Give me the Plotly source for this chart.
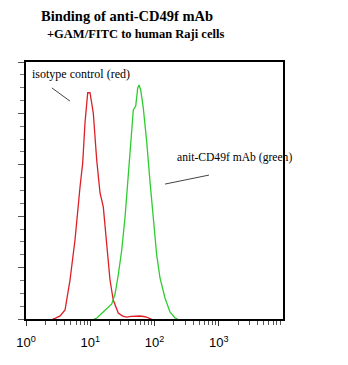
import plotly.graph_objects as go

# Isotype control (red) histogram: fluorescence intensity vs counts
red_x = [2.6, 2.83, 3.4, 4.05, 4.84, 5.79, 6.93, 7.63, 8.28, 9.13, 9.91, 11.15, 12.6, 14.2,
         15.96, 18.03, 20.3, 22.8, 27.3, 32, 36.9, 43, 49.7, 60, 71.1, 79.2, 90]
red_y = [0, 0.7, 3, 8.75, 37.9, 76.8, 128.4, 151.8, 190.7, 220.1, 220.1, 200.4, 154.7, 122.6,
         109, 73.9, 37.9, 18.5, 5.8, 2.8, 1.9, 2.5, 2.9, 2.9, 2.2, 1, 0]

# anti-CD49f mAb (green) histogram
green_x = [11.5, 12.6, 14.2, 18.03, 21.6, 24.3, 27.3, 30.9, 34.7, 39.1, 44.2, 46.8, 51, 54.8,
           57.4, 61, 66.9, 75.6, 85.1, 95.8, 108.2, 121.8, 145.7, 174.2, 208.4, 230]
green_y = [0, 0.7, 3.9, 9.7, 14.6, 24.3, 42.8, 67.1, 98.2, 140.1, 179, 203.3, 207.2, 224.7,
           227.6, 222.8, 205.3, 172.5, 133.6, 94.6, 62.3, 39.9, 20.4, 6.8, 1, 0]

x_tick_vals = [1, 10, 100, 1000]
x_tick_text = ["10<sup>0</sup>", "10<sup>1</sup>", "10<sup>2</sup>", "10<sup>3</sup>"]
x_minor_vals = [m * d for d in [1, 10, 100, 1000] for m in range(2, 10)]

title_line1 = "Binding of anti-CD49f mAb"
title_line2 = "+GAM/FITC to human Raji cells"
label_red = "isotype control (red)"
label_green = "anit-CD49f mAb (green)"

fig = go.Figure()
fig.add_trace(go.Scatter(x=red_x, y=red_y, mode="lines",
                         line=dict(color="#dd1f26", width=1.3), showlegend=False))
fig.add_trace(go.Scatter(x=green_x, y=green_y, mode="lines",
                         line=dict(color="#2fcc2f", width=1.3), showlegend=False))

serif = "Liberation Serif, Times New Roman, serif"

fig.update_layout(
    width=348, height=365,
    margin=dict(l=26, r=65, t=62, b=46),
    paper_bgcolor="white", plot_bgcolor="white",
    xaxis=dict(type="log", range=[0, 4], showgrid=False, zeroline=False,
               showline=True, mirror=True, linecolor="black", linewidth=1.5,
               tickvals=x_tick_vals, ticktext=x_tick_text,
               ticks="outside", ticklen=5, tickcolor="#333", tickwidth=1,
               ticklabelstandoff=6,
               tickfont=dict(family="Liberation Sans, Arial, sans-serif", size=13, color="black"),
               minor=dict(tickvals=x_minor_vals, ticks="outside", ticklen=4,
                          tickcolor="#555", showgrid=False)),
    yaxis=dict(range=[0, 250], showgrid=False, zeroline=False,
               showline=True, mirror=True, linecolor="black", linewidth=1.5,
               dtick=50, ticks="outside", ticklen=6, tickcolor="#555",
               showticklabels=False,
               minor=dict(dtick=12.5, ticks="outside", ticklen=4,
                          tickcolor="#777", showgrid=False)),
    annotations=[
        dict(text="<b>" + title_line1 + "</b>", xref="paper", yref="paper",
             x=0.051, y=1.179, xanchor="left", yanchor="middle", showarrow=False,
             font=dict(family=serif, size=14.5, color="black")),
        dict(text="<b>" + title_line2 + "</b>", xref="paper", yref="paper",
             x=0.074, y=1.109, xanchor="left", yanchor="middle", showarrow=False,
             font=dict(family=serif, size=12.5, color="black")),
        dict(text=label_red, xref="paper", yref="paper",
             x=0.016, y=0.953, xanchor="left", yanchor="middle", showarrow=False,
             font=dict(family=serif, size=12, color="black")),
        dict(text=label_green, xref="paper", yref="paper",
             x=0.58, y=0.630, xanchor="left", yanchor="middle", showarrow=False,
             font=dict(family=serif, size=11.6, color="black")),
    ],
    shapes=[
        dict(type="line", xref="paper", yref="paper", x0=0.101, y0=0.899, x1=0.171, y1=0.848,
             line=dict(color="#444", width=1)),
        dict(type="line", xref="paper", yref="paper", x0=0.541, y0=0.525, x1=0.712, y1=0.560,
             line=dict(color="#444", width=1)),
    ],
)

fig.write_html("out.html")
